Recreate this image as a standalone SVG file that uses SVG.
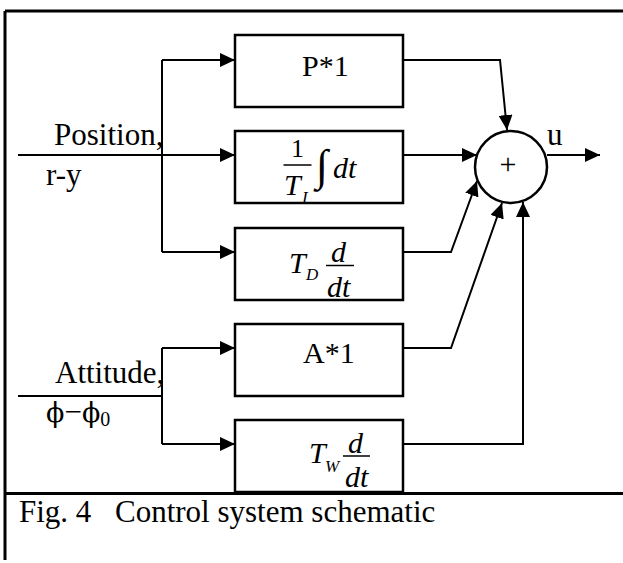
<svg xmlns="http://www.w3.org/2000/svg" width="623" height="563" viewBox="0 0 623 563">
<style>
.frame{fill:none;stroke:#000;stroke-width:3}
.box{fill:#fff;stroke:#000;stroke-width:2.5}
.wire{fill:none;stroke:#000;stroke-width:2}
.bar{stroke:#000;stroke-width:1.5}
text{font-family:"Liberation Serif","Times New Roman","DejaVu Serif",serif;fill:#000}
.lbl{font-size:31px}
.bt{font-size:30px}
.it{font-size:30px;font-style:italic}
.sub{font-size:17px;font-style:italic}
.phi{font-family:"DejaVu Serif","Liberation Serif",serif;font-size:27px}
</style>
<defs>
<marker id="ah" markerUnits="userSpaceOnUse" markerWidth="15" markerHeight="14" refX="15" refY="7" orient="auto">
<path d="M0,0 L15,7 L0,14 z" fill="#000"/>
</marker>
</defs>
<rect width="623" height="563" fill="#fff"/>
<g id="frame">
<path class="frame" d="M5,11 H623 M5,11 V560 M5,493.5 H623"/>
</g>
<g id="connectors">
<path class="wire" d="M18,155 H235" marker-end="url(#ah)"/>
<path class="wire" d="M162,60 V252"/>
<path class="wire" d="M162,60 H235" marker-end="url(#ah)"/>
<path class="wire" d="M162,252 H235" marker-end="url(#ah)"/>
<path class="wire" d="M18,396 H162 M162,348 V444"/>
<path class="wire" d="M162,348 H235" marker-end="url(#ah)"/>
<path class="wire" d="M162,444 H235" marker-end="url(#ah)"/>
<path class="wire" d="M403,60 H500 L507,130" marker-end="url(#ah)"/>
<path class="wire" d="M403,155 H477" marker-end="url(#ah)"/>
<path class="wire" d="M403,252 H451 L477,181" marker-end="url(#ah)"/>
<path class="wire" d="M403,348 H451 L502,203" marker-end="url(#ah)"/>
<path class="wire" d="M403,444 H523 V202" marker-end="url(#ah)"/>
<path class="wire" d="M547,155 H600" marker-end="url(#ah)"/>
</g>
<g id="labels">
<text class="lbl" x="54" y="145">Position,</text>
<text class="lbl" x="46" y="185">r-y</text>
<text class="lbl" x="55" y="383">Attitude,</text>
<text x="46" y="422"><tspan class="phi">ϕ</tspan><tspan font-size="31">−</tspan><tspan class="phi">ϕ</tspan><tspan font-size="20" dy="4">0</tspan></text>
<text class="lbl" x="547" y="145">u</text>
</g>
<g id="p-block">
<rect class="box" x="235" y="35" width="168" height="72"/>
<text class="bt" x="302" y="76">P*1</text>
</g>
<g id="i-block">
<rect class="box" x="235" y="131" width="168" height="72"/>
<text x="297.5" y="157" font-size="26" text-anchor="middle">1</text>
<line class="bar" x1="283.5" y1="165" x2="311.5" y2="165"/>
<text class="it" x="284" y="195">T</text>
<text class="sub" x="302" y="203">I</text>
<text x="316" y="180" font-size="44">∫</text>
<text class="it" x="333" y="178">dt</text>
</g>
<g id="d-block">
<rect class="box" x="235" y="228" width="168" height="72"/>
<text class="it" x="289" y="273">T</text>
<text class="sub" x="306" y="280">D</text>
<text class="it" x="331" y="262">d</text>
<line class="bar" x1="326" y1="265.5" x2="354" y2="265.5"/>
<text class="it" x="327" y="297">dt</text>
</g>
<g id="a-block">
<rect class="box" x="235" y="324" width="168" height="72"/>
<text class="bt" x="303" y="363">A*1</text>
</g>
<g id="w-block">
<rect class="box" x="235" y="420" width="168" height="72"/>
<text class="it" x="309" y="463">T</text>
<text class="sub" x="325" y="472">W</text>
<text class="it" x="348" y="453">d</text>
<line class="bar" x1="343" y1="456" x2="370" y2="456"/>
<text class="it" x="345" y="487">dt</text>
</g>
<g id="sum">
<circle cx="511" cy="167" r="36" fill="#fff" stroke="#000" stroke-width="2.5"/>
<text x="508" y="174" font-size="30" text-anchor="middle" fill="#333">+</text>
</g>
<g id="caption">
<text class="lbl" x="19" y="522">Fig. 4</text>
<text class="lbl" x="115" y="522">Control system schematic</text>
</g>
</svg>
